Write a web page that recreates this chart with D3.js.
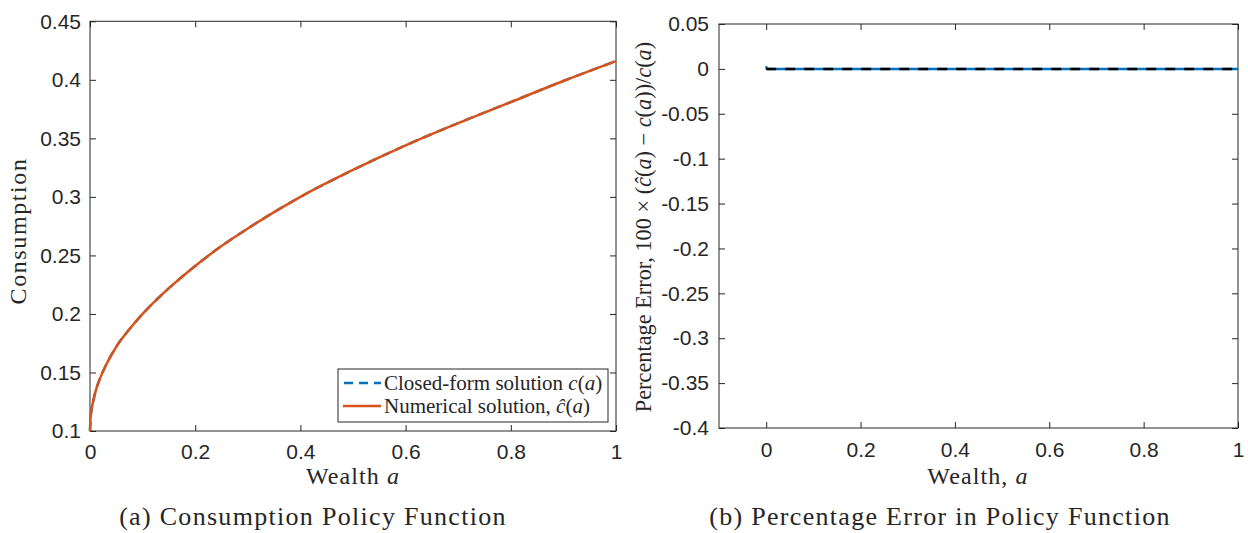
<!DOCTYPE html>
<html><head><meta charset="utf-8">
<script src="https://cdn.jsdelivr.net/npm/d3@7"></script>
<style>
html,body{margin:0;padding:0;background:#fff;}
svg text{fill:#262626;}
.tick text{font-family:"Liberation Sans",Arial,sans-serif;font-size:21px;fill:#262626;}
.serif{font-family:"Liberation Serif","Times New Roman",serif;}
</style>
</head><body>
<svg id="c" width="1248" height="533"></svg>
<script>
// ---------------- data ----------------
const wealth = [0, 0.001, 0.0025, 0.005, 0.01, 0.02, 0.03, 0.05, 0.075, 0.1, 0.15, 0.2, 0.25, 0.3, 0.4, 0.5, 0.6, 0.7, 0.8, 0.9, 1.0];
const closedForm = [0.1, 0.111, 0.117, 0.123, 0.133, 0.146, 0.156, 0.172, 0.187, 0.200, 0.222, 0.241, 0.258, 0.273, 0.300, 0.323, 0.344, 0.363, 0.381, 0.399, 0.416];
const numerical  = [0.1, 0.111, 0.117, 0.123, 0.133, 0.146, 0.156, 0.172, 0.187, 0.200, 0.222, 0.241, 0.258, 0.273, 0.300, 0.323, 0.344, 0.363, 0.381, 0.399, 0.416];
const errWealth = [0, 0.001, 0.003, 0.1, 0.2, 0.3, 0.4, 0.5, 0.6, 0.7, 0.8, 0.9, 1.0];
const pctError  = [0.003, 0.0008, 0, 0, 0, 0, 0, 0, 0, 0, 0, 0, 0];
const zeroWealth = [0, 1];
const zeroLine = [0, 0];
const xTicks = [0, 0.2, 0.4, 0.6, 0.8, 1];
const yTicksA = [0.1, 0.15, 0.2, 0.25, 0.3, 0.35, 0.4, 0.45];
const yTicksB = [-0.4, -0.35, -0.3, -0.25, -0.2, -0.15, -0.1, -0.05, 0, 0.05];

const BLUE = "#0072BD", ORANGE = "#D95319", AX = "#262626";
const svg = d3.select("#c");
const fmt = d => String(+d.toFixed(2));

function panel(opt){
  const {x0,x1,y0,y1,xdom,ydom,yt} = opt;
  const x = d3.scaleLinear().domain(xdom).range([x0,x1]);
  const y = d3.scaleLinear().domain(ydom).range([y1,y0]);
  const g = svg.append("g");
  g.append("rect").attr("x",x0).attr("y",y0).attr("width",x1-x0).attr("height",y1-y0)
    .attr("fill","none").attr("stroke",AX).attr("stroke-width",1);
  const tk = 6;
  const styleAx = s => { s.select(".domain").remove(); s.selectAll(".tick line").attr("stroke",AX); };
  g.append("g").attr("transform",`translate(0,${y1})`)
    .call(d3.axisBottom(x).tickValues(xTicks).tickFormat(fmt).tickSizeInner(-tk).tickSizeOuter(0).tickPadding(opt.xpad))
    .call(styleAx);
  g.append("g").attr("transform",`translate(0,${y0})`)
    .call(d3.axisTop(x).tickValues(xTicks).tickFormat("").tickSizeInner(-tk).tickSizeOuter(0))
    .call(styleAx);
  g.append("g").attr("transform",`translate(${x0},0)`)
    .call(d3.axisLeft(y).tickValues(yt).tickFormat(fmt).tickSizeInner(-tk).tickSizeOuter(0).tickPadding(opt.ypad))
    .call(styleAx);
  g.append("g").attr("transform",`translate(${x1},0)`)
    .call(d3.axisRight(y).tickValues(yt).tickFormat("").tickSizeInner(-tk).tickSizeOuter(0))
    .call(styleAx);
  g.selectAll(".tick text").attr("fill",AX);
  return {g,x,y};
}

// ---------- panel (a) ----------
const A = panel({x0:90,x1:616,y0:21.3,y1:431,xdom:[0,1],ydom:[0.1,0.45],yt:yTicksA,xpad:13,ypad:9});
const lineA = d3.line().x(d=>A.x(d[0])).y(d=>A.y(d[1])).curve(d3.curveMonotoneX);
A.g.append("path").datum(wealth.map((w,i)=>[w,closedForm[i]]))
  .attr("d",lineA).attr("fill","none").attr("stroke",BLUE).attr("stroke-width",2.5).attr("stroke-dasharray","9,6");
A.g.append("path").datum(wealth.map((w,i)=>[w,numerical[i]]))
  .attr("d",lineA).attr("fill","none").attr("stroke",ORANGE).attr("stroke-width",2.5);

// legend
const lg = A.g.append("g");
lg.append("rect").attr("x",338).attr("y",369).attr("width",270).attr("height",53)
  .attr("fill","#fff").attr("stroke",AX).attr("stroke-width",1);
lg.append("line").attr("x1",343).attr("x2",381).attr("y1",383).attr("y2",383)
  .attr("stroke",BLUE).attr("stroke-width",2.5).attr("stroke-dasharray","9,6").attr("stroke-dashoffset",-1);
lg.append("line").attr("x1",343).attr("x2",381).attr("y1",406).attr("y2",406)
  .attr("stroke",ORANGE).attr("stroke-width",2.5);
function legendText(yPos, parts){
  const t = lg.append("text").attr("class","serif").attr("x",384).attr("y",yPos).attr("font-size",21);
  parts.forEach(p => t.append("tspan").attr("font-style",p[1]?"italic":null).text(p[0]));
}
legendText(390, [["Closed-form solution ",0],["c",1],["(",0],["a",1],[")",0]]);
legendText(413, [["Numerical solution, ",0],["ĉ",1],["(",0],["a",1],[")",0]]);

// axis titles (a)
const xa = svg.append("text").attr("class","serif").attr("x",353).attr("y",484).attr("text-anchor","middle")
  .attr("font-size",24).attr("letter-spacing",1.1);
xa.append("tspan").text("Wealth ");
xa.append("tspan").attr("font-style","italic").text("a");
svg.append("text").attr("class","serif").attr("transform","translate(26,231) rotate(-90)")
  .attr("text-anchor","middle").attr("font-size",24).attr("letter-spacing",1.6).text("Consumption");
svg.append("text").attr("class","serif").attr("x",313).attr("y",525).attr("text-anchor","middle")
  .attr("font-size",26).attr("letter-spacing",1.3).attr("fill","#111").text("(a)  Consumption Policy Function");

// ---------- panel (b) ----------
const B = panel({x0:719,x1:1238,y0:24,y1:428,xdom:[-0.1,1],ydom:[-0.4,0.05],yt:yTicksB,xpad:14,ypad:10});
const lineB = d3.line().x(d=>B.x(d[0])).y(d=>B.y(d[1]));
B.g.append("path").datum(errWealth.map((w,i)=>[w,pctError[i]]))
  .attr("d",lineB).attr("fill","none").attr("stroke",BLUE).attr("stroke-width",2.5);
B.g.append("path").datum(zeroWealth.map((w,i)=>[w,zeroLine[i]]))
  .attr("d",lineB).attr("fill","none").attr("stroke","#000").attr("stroke-width",2.5).attr("stroke-dasharray","10,9");

const xb = svg.append("text").attr("class","serif").attr("x",978).attr("y",484).attr("text-anchor","middle")
  .attr("font-size",24).attr("letter-spacing",1.1);
xb.append("tspan").text("Wealth, ");
xb.append("tspan").attr("font-style","italic").text("a");
const yb = svg.append("text").attr("class","serif").attr("transform","translate(651,227) rotate(-90)")
  .attr("text-anchor","middle").attr("font-size",22.3);
[["Percentage Error, 100 × (",0],["ĉ",1],["(",0],["a",1],[") − ",0],["c",1],["(",0],["a",1],["))/",0],["c",1],["(",0],["a",1],[")",0]]
  .forEach(p => yb.append("tspan").attr("font-style",p[1]?"italic":null).text(p[0]));
svg.append("text").attr("class","serif").attr("x",940).attr("y",525).attr("text-anchor","middle")
  .attr("font-size",26).attr("letter-spacing",1.3).attr("fill","#111").text("(b)  Percentage Error in Policy Function");
</script>
</body></html>
